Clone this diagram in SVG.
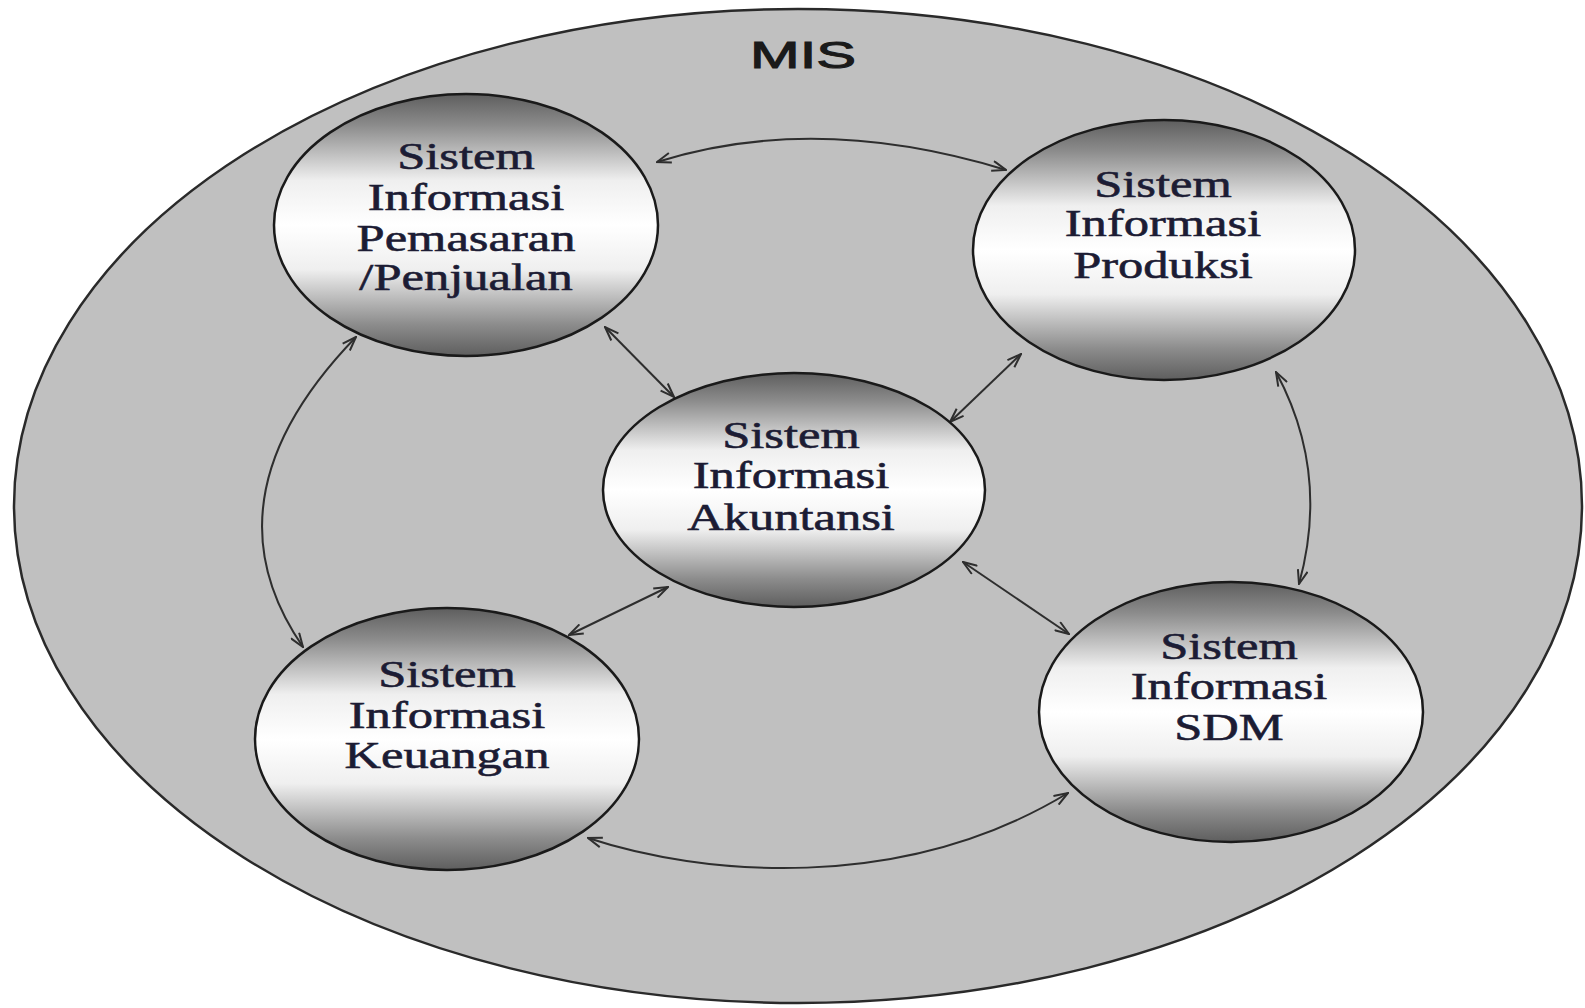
<svg xmlns="http://www.w3.org/2000/svg" width="1585" height="1008" viewBox="0 0 1585 1008">
<style>
.node{fill:url(#g);stroke:#1a1a1a;stroke-width:2.5}
.lbl{font-family:"Liberation Serif","Times New Roman",serif;font-size:38px;fill:#1c1c34;stroke:#1c1c34;stroke-width:0.6;text-anchor:middle}
.con{fill:none;stroke:#2e2e2e;stroke-width:2;marker-start:url(#a);marker-end:url(#a)}
</style>
<defs>
<linearGradient id="g" x1="0" y1="0" x2="0" y2="1">
<stop offset="0" stop-color="#5e5e5e"/>
<stop offset="0.12" stop-color="#8c8c8c"/>
<stop offset="0.33" stop-color="#efefef"/>
<stop offset="0.5" stop-color="#ffffff"/>
<stop offset="0.67" stop-color="#efefef"/>
<stop offset="0.88" stop-color="#8c8c8c"/>
<stop offset="1" stop-color="#5e5e5e"/>
</linearGradient>
<marker id="a" viewBox="0 0 16 12" refX="15" refY="6" markerWidth="16" markerHeight="12" markerUnits="userSpaceOnUse" orient="auto-start-reverse">
<path d="M1,1 L15,6 L1,11" fill="none" stroke="#2e2e2e" stroke-width="2"/>
</marker>
</defs>
<rect width="1585" height="1008" fill="#ffffff"/>
<g id="mis">
<ellipse cx="798" cy="506" rx="784" ry="497" fill="#c0c0c0" stroke="#2a2a2a" stroke-width="2.5"/>
<text x="803" y="68" font-family="'Liberation Sans',Arial,sans-serif" font-size="36" fill="#1a1a1a" stroke="#1a1a1a" stroke-width="1" text-anchor="middle" textLength="106" lengthAdjust="spacingAndGlyphs">MIS</text>
</g>
<g id="connectors">
<path class="con" d="M657,162 Q816,112 1006,170"/>
<path class="con" d="M356,337 Q200,498 303,647"/>
<path class="con" d="M1276,372 Q1330,472 1299,584"/>
<path class="con" d="M588,838 C700,875 900,895 1068,793"/>
<path class="con" d="M605,327 L674,397"/>
<path class="con" d="M1021,354 L950,422"/>
<path class="con" d="M668,587 L569,635"/>
<path class="con" d="M963,562 L1069,634"/>
</g>
<g id="n-pemasaran">
<ellipse class="node" cx="466" cy="225" rx="192" ry="131"/>
<g transform="translate(466 0) scale(1.33 1)">
<text class="lbl" x="0" y="169">Sistem</text>
<text class="lbl" x="0" y="210">Informasi</text>
<text class="lbl" x="0" y="251">Pemasaran</text>
<text class="lbl" x="0" y="290">/Penjualan</text>
</g>
</g>
<g id="n-produksi">
<ellipse class="node" cx="1164" cy="250" rx="191" ry="130"/>
<g transform="translate(1163 0) scale(1.33 1)">
<text class="lbl" x="0" y="197">Sistem</text>
<text class="lbl" x="0" y="236">Informasi</text>
<text class="lbl" x="0" y="278">Produksi</text>
</g>
</g>
<g id="n-akuntansi">
<ellipse class="node" cx="794" cy="490" rx="191" ry="117"/>
<g transform="translate(791 0) scale(1.33 1)">
<text class="lbl" x="0" y="448">Sistem</text>
<text class="lbl" x="0" y="488">Informasi</text>
<text class="lbl" x="0" y="530">Akuntansi</text>
</g>
</g>
<g id="n-keuangan">
<ellipse class="node" cx="447" cy="739" rx="192" ry="131"/>
<g transform="translate(447 0) scale(1.33 1)">
<text class="lbl" x="0" y="687">Sistem</text>
<text class="lbl" x="0" y="728">Informasi</text>
<text class="lbl" x="0" y="768">Keuangan</text>
</g>
</g>
<g id="n-sdm">
<ellipse class="node" cx="1231" cy="712" rx="192" ry="130"/>
<g transform="translate(1229 0) scale(1.33 1)">
<text class="lbl" x="0" y="659">Sistem</text>
<text class="lbl" x="0" y="699">Informasi</text>
<text class="lbl" x="0" y="740">SDM</text>
</g>
</g>
</svg>
